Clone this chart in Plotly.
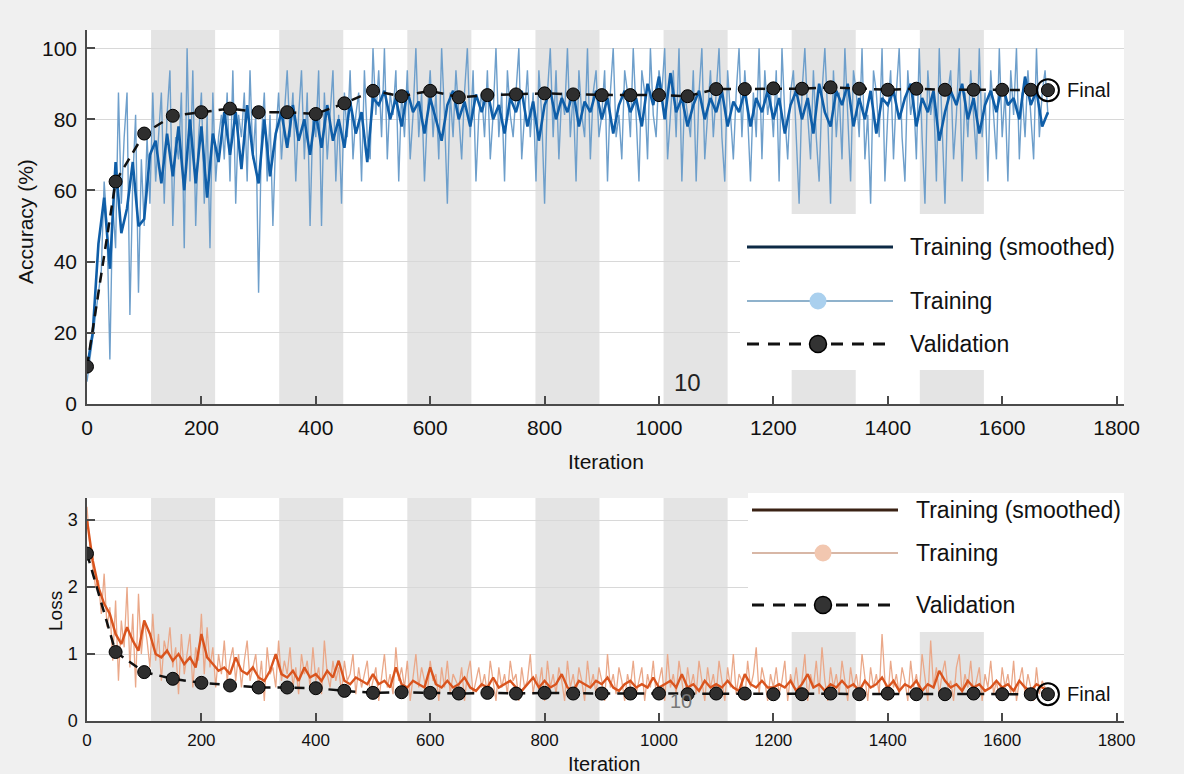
import plotly.graph_objects as go

W, H = 1184, 774

# ---------------- data ----------------
raw_iter = list(range(0, 1681, 5))
acc_raw = [
    6.25, 12.5, 18.75, 25, 31.25, 37.5, 62.5, 50, 12.5, 56.25,
    43.75, 87.5, 56.25, 75, 87.5, 25, 62.5, 81.25, 31.25, 68.75,
    50, 75, 56.25, 87.5, 62.5, 75, 87.5, 56.25, 81.25, 93.75,
    50, 75, 68.75, 87.5, 43.75, 100, 62.5, 93.75, 50, 75,
    87.5, 56.25, 81.25, 43.75, 87.5, 62.5, 75, 81.25, 68.75, 87.5,
    62.5, 93.75, 56.25, 81.25, 75, 87.5, 62.5, 93.75, 68.75, 81.25,
    31.25, 75, 87.5, 62.5, 81.25, 50, 75, 87.5, 68.75, 81.25,
    93.75, 75, 87.5, 62.5, 81.25, 93.75, 68.75, 87.5, 50, 81.25,
    75, 93.75, 50, 87.5, 68.75, 81.25, 93.75, 62.5, 81.25, 56.25,
    87.5, 75, 93.75, 68.75, 81.25, 87.5, 62.5, 93.75, 75, 68.75,
    100, 81.25, 93.75, 75, 100, 68.75, 87.5, 81.25, 93.75, 62.5,
    87.5, 75, 93.75, 68.75, 81.25, 100, 75, 87.5, 62.5, 81.25,
    93.75, 75, 87.5, 68.75, 100, 81.25, 56.25, 87.5, 75, 93.75,
    81.25, 68.75, 87.5, 100, 75, 93.75, 62.5, 81.25, 87.5, 75,
    93.75, 68.75, 81.25, 100, 75, 87.5, 62.5, 93.75, 81.25, 75,
    87.5, 100, 68.75, 81.25, 93.75, 75, 87.5, 62.5, 93.75, 81.25,
    56.25, 87.5, 100, 75, 93.75, 68.75, 87.5, 81.25, 100, 75,
    87.5, 62.5, 93.75, 81.25, 75, 100, 68.75, 87.5, 93.75, 75,
    81.25, 93.75, 62.5, 87.5, 100, 75, 81.25, 68.75, 93.75, 87.5,
    75, 100, 81.25, 62.5, 93.75, 87.5, 68.75, 100, 81.25, 75,
    93.75, 87.5, 100, 68.75, 81.25, 93.75, 75, 100, 62.5, 87.5,
    81.25, 75, 93.75, 62.5, 87.5, 100, 68.75, 81.25, 93.75, 75,
    87.5, 100, 75, 62.5, 93.75, 81.25, 68.75, 87.5, 100, 75,
    93.75, 81.25, 62.5, 87.5, 75, 100, 68.75, 93.75, 81.25, 87.5,
    75, 93.75, 62.5, 100, 81.25, 68.75, 87.5, 93.75, 75, 56.25,
    87.5, 100, 81.25, 68.75, 93.75, 75, 62.5, 87.5, 100, 81.25,
    56.25, 93.75, 75, 87.5, 68.75, 100, 81.25, 62.5, 93.75, 87.5,
    75, 100, 68.75, 81.25, 56.25, 93.75, 87.5, 75, 100, 62.5,
    81.25, 93.75, 68.75, 87.5, 100, 75, 62.5, 93.75, 81.25, 87.5,
    68.75, 100, 75, 56.25, 93.75, 81.25, 87.5, 62.5, 100, 75,
    56.25, 87.5, 93.75, 68.75, 81.25, 100, 62.5, 87.5, 75, 93.75,
    81.25, 68.75, 100, 75, 87.5, 62.5, 93.75, 81.25, 68.75, 100,
    75, 87.5, 62.5, 93.75, 81.25, 100, 68.75, 87.5, 75, 93.75,
    81.25, 68.75, 100, 75, 87.5, 93.75, 81.25,
]

smooth_iter = list(range(0, 1681, 10))
acc_smooth = [
    10, 20, 45, 58, 38, 68, 48, 55, 68, 50,
    52, 70, 74, 62, 76, 64, 78, 60, 80, 62,
    78, 58, 76, 68, 82, 70, 82, 66, 84, 70,
    62, 80, 64, 76, 82, 72, 84, 74, 80, 70,
    82, 72, 84, 74, 80, 72, 85, 76, 82, 68,
    86, 84, 88, 80, 86, 78, 88, 82, 85, 76,
    86, 80, 74, 84, 88, 80, 85, 78, 87, 82,
    88, 80, 84, 76, 86, 82, 88, 78, 85, 74,
    84, 88, 80, 86, 82, 88, 78, 85, 82, 88,
    80, 86, 76, 84, 88, 82, 86, 78, 90, 84,
    92, 80, 93, 82, 86, 78, 84, 88, 80, 86,
    82, 88, 78, 85, 82, 88, 78, 86, 82, 88,
    80, 86, 76, 84, 88, 80, 86, 76, 90, 82,
    78, 88, 84, 90, 78, 86, 80, 88, 76, 86,
    84, 88, 80, 86, 90, 78, 86, 82, 88, 74,
    82, 88, 84, 90, 80, 86, 76, 84, 88, 82,
    90, 84, 86, 80, 92, 84, 88, 78, 82,
]

val_iter = [0, 50, 100, 150, 200, 250, 300, 350, 400, 450, 500, 550, 600,
            650, 700, 750, 800, 850, 900, 950, 1000, 1050, 1100, 1150, 1200,
            1250, 1300, 1350, 1400, 1450, 1500, 1550, 1600, 1650, 1680]
acc_val = [10.5, 62.5, 76, 81, 82, 83, 82, 82, 81.5, 84.5, 88, 86.5, 88,
           86.2, 86.8, 87, 87.3, 87, 86.8, 86.8, 86.8, 86.5, 88.5, 88.5, 88.7,
           88.6, 89, 88.6, 88.3, 88.6, 88.3, 88.3, 88.3, 88.3, 88.2]

loss_raw = [
    3.2, 2.6, 2.3, 2.0, 2.1, 1.6, 2.2, 1.4, 1.7, 0.9,
    1.8, 0.6, 1.5, 1.1, 2.0, 0.8, 1.6, 0.5, 1.9, 1.0,
    1.5, 1.2, 0.8, 1.6, 0.9, 1.3, 0.6, 1.2, 1.0, 1.4,
    0.8, 1.1, 0.4, 1.3, 0.7, 1.0, 1.3, 0.5, 1.1, 0.9,
    1.6, 0.7, 1.4, 0.8, 1.1, 0.5, 1.0, 0.7, 1.2, 0.6,
    0.9, 1.1, 0.6, 1.0, 0.5, 0.9, 1.2, 0.6, 0.8, 1.0,
    0.5, 0.9, 0.3, 1.1, 0.7, 0.8, 0.5, 1.2, 0.6, 0.9,
    0.7, 1.1, 0.5, 0.8, 0.4, 1.0, 0.7, 0.9, 0.5, 1.1,
    0.6, 0.8, 0.4, 1.2, 0.7, 0.5, 0.9, 0.6, 0.8, 0.4,
    0.9, 0.6, 0.7, 1.0, 0.4, 0.8, 0.5, 0.7, 0.9, 0.4,
    0.6, 0.8, 0.3, 0.7, 1.0, 0.5, 0.7, 0.4, 1.1, 0.6,
    0.8, 0.5, 0.9, 0.3, 0.7, 1.0, 0.5, 0.8, 0.6, 0.4,
    0.9, 0.6, 0.7, 0.3, 0.8, 0.5, 0.9, 0.4, 0.7, 0.6,
    0.5, 0.8, 0.3, 0.7, 0.9, 0.4, 0.6, 0.8, 0.5, 0.7,
    0.4, 0.9, 0.6, 0.3, 0.8, 0.5, 0.7, 0.4, 0.9, 0.6,
    0.7, 0.3, 0.8, 0.5, 0.6, 1.0, 0.4, 0.7, 0.5, 0.8,
    0.3, 0.9, 0.5, 0.7, 0.4, 0.8, 0.6, 0.3, 0.9, 0.5,
    0.7, 0.4, 0.8, 0.6, 0.3, 0.9, 0.5, 0.7, 0.4, 0.8,
    0.6, 0.3, 1.0, 0.5, 0.7, 0.4, 0.8, 0.6, 0.3, 0.7,
    0.5, 0.9, 0.4, 0.6, 0.8, 0.3, 0.7, 0.5, 0.9, 0.4,
    0.6, 0.8, 0.3, 1.0, 0.5, 0.7, 0.4, 0.9, 0.6, 0.3,
    0.8, 0.5, 0.7, 0.4, 0.9, 0.6, 0.3, 0.8, 0.5, 0.7,
    0.4, 0.9, 0.6, 0.3, 0.8, 0.5, 1.0, 0.4, 0.7, 0.6,
    0.3, 0.9, 0.5, 0.7, 1.1, 0.4, 0.8, 0.6, 0.3, 0.7,
    0.5, 0.8, 0.4, 0.6, 0.9, 0.3, 0.7, 0.5, 0.8, 0.4,
    0.6, 1.0, 0.3, 0.7, 0.5, 0.9, 0.4, 1.1, 0.6, 0.3,
    0.8, 0.5, 0.7, 0.4, 0.9, 0.6, 0.3, 0.8, 0.5, 0.7,
    0.4, 1.0, 0.6, 0.3, 0.8, 0.5, 0.7, 0.4, 1.3, 0.6,
    0.3, 0.9, 0.5, 0.7, 0.4, 0.8, 0.6, 0.3, 0.9, 0.5,
    0.7, 0.4, 1.0, 0.6, 0.3, 1.2, 0.5, 0.8, 0.4, 0.7,
    0.9, 0.5, 0.6, 0.3, 0.8, 1.0, 0.4, 0.7, 0.5, 0.9,
    0.4, 0.6, 0.8, 0.3, 0.7, 0.5, 0.9, 0.4, 0.6, 0.3,
    0.8, 0.5, 0.7, 0.4, 0.9, 0.3, 0.6, 0.8, 0.4, 0.7,
    0.5, 0.3, 0.8, 0.4, 0.6, 0.5, 0.4,
]

loss_smooth = [
    3.0, 2.4, 2.0, 1.75, 1.6, 1.3, 1.15, 1.4, 1.2, 1.05,
    1.5, 1.3, 1.0, 0.95, 1.05, 0.9, 1.0, 0.85, 0.95, 0.8,
    1.3, 0.95, 0.85, 0.75, 0.8, 0.7, 0.95, 0.75, 0.7, 0.8,
    0.65, 0.6, 0.75, 1.0, 0.7, 0.65, 0.75, 0.6, 0.8, 0.65,
    0.7, 0.6, 0.75, 0.65, 0.9, 0.6, 0.55, 0.65, 0.6, 0.55,
    0.7, 0.55, 0.6, 0.5, 0.8, 0.55, 0.5, 0.6, 0.55, 0.5,
    0.8, 0.55, 0.5, 0.6, 0.5, 0.55, 0.65, 0.5, 0.45, 0.55,
    0.5, 0.65, 0.5, 0.55, 0.6, 0.5, 0.45, 0.55, 0.65, 0.5,
    0.6, 0.5, 0.55, 0.7, 0.5, 0.45, 0.6, 0.55, 0.5, 0.6,
    0.55, 0.65, 0.5, 0.45, 0.55, 0.6, 0.5, 0.55, 0.5, 0.65,
    0.5, 0.55, 0.6, 0.5, 0.7, 0.5, 0.55, 0.45, 0.6, 0.5,
    0.55, 0.5, 0.6, 0.5, 0.45, 0.7, 0.55, 0.5, 0.6, 0.5,
    0.5, 0.55, 0.5, 0.6, 0.45, 0.55, 0.7, 0.5, 0.55, 0.45,
    0.55, 0.5, 0.6, 0.5, 0.55, 0.45, 0.6, 0.5, 0.55, 0.65,
    0.5, 0.6, 0.45, 0.55, 0.5, 0.6, 0.45, 0.55, 0.5, 0.75,
    0.6, 0.5, 0.55, 0.45, 0.6, 0.5, 0.55, 0.45, 0.5, 0.6,
    0.5, 0.55, 0.45, 0.6, 0.5, 0.45, 0.55, 0.5, 0.45,
]

loss_val = [2.5, 1.03, 0.73, 0.63, 0.57, 0.53, 0.5, 0.5, 0.49, 0.45, 0.42,
            0.43, 0.42, 0.41, 0.42, 0.41, 0.42, 0.41, 0.41, 0.41, 0.41, 0.4,
            0.41, 0.41, 0.4, 0.4, 0.41, 0.4, 0.41, 0.4, 0.4, 0.41, 0.4, 0.4, 0.4]

epoch_len = 112
shaded_epochs = [2, 4, 6, 8, 10, 12, 14]
x_ticks = [0, 200, 400, 600, 800, 1000, 1200, 1400, 1600, 1800]
acc_ticks = [0, 20, 40, 60, 80, 100]
loss_ticks = [0, 1, 2, 3]
legend_labels = ["Training (smoothed)", "Training", "Validation"]

# ---------------- helpers ----------------
def px(x):
    return x / W

def py(y):
    return 1 - y / H

FONT = "Liberation Sans, Arial, sans-serif"
X0, X1 = 87, 1124
TOP = (30, 404)
BOT = (498, 721)

fig = go.Figure()

# accuracy traces
fig.add_trace(go.Scatter(x=raw_iter, y=acc_raw, mode="lines",
                         line=dict(color="#6e9fcb", width=1.4),
                         xaxis="x", yaxis="y", showlegend=False, hoverinfo="skip"))
fig.add_trace(go.Scatter(x=smooth_iter, y=acc_smooth, mode="lines",
                         line=dict(color="#0f5ea8", width=2.6),
                         xaxis="x", yaxis="y", showlegend=False))
fig.add_trace(go.Scatter(x=val_iter, y=acc_val, mode="lines+markers",
                         line=dict(color="#111111", width=2.5, dash="10px,7px"),
                         marker=dict(size=13, color="#2e2e2e", line=dict(color="#000", width=1)),
                         xaxis="x", yaxis="y", showlegend=False))
fig.add_trace(go.Scatter(x=[val_iter[-1]], y=[acc_val[-1]], mode="markers",
                         marker=dict(size=22, symbol="circle-open", color="#000",
                                     line=dict(width=2)),
                         xaxis="x", yaxis="y", showlegend=False))

# loss traces
fig.add_trace(go.Scatter(x=raw_iter, y=loss_raw, mode="lines",
                         line=dict(color="#eaa889", width=1.3),
                         xaxis="x2", yaxis="y2", showlegend=False, hoverinfo="skip"))
fig.add_trace(go.Scatter(x=smooth_iter, y=loss_smooth, mode="lines",
                         line=dict(color="#d9541e", width=2.4),
                         xaxis="x2", yaxis="y2", showlegend=False))
fig.add_trace(go.Scatter(x=val_iter, y=loss_val, mode="lines+markers",
                         line=dict(color="#111111", width=2.5, dash="10px,7px"),
                         marker=dict(size=13, color="#2e2e2e", line=dict(color="#000", width=1)),
                         xaxis="x2", yaxis="y2", showlegend=False))
fig.add_trace(go.Scatter(x=[val_iter[-1]], y=[loss_val[-1]], mode="markers",
                         marker=dict(size=22, symbol="circle-open", color="#000",
                                     line=dict(width=2)),
                         xaxis="x2", yaxis="y2", showlegend=False))

shapes = []
# epoch shading
for ax in ["", "2"]:
    for e in shaded_epochs:
        shapes.append(dict(type="rect", xref="x" + ax, yref="y" + ax + " domain",
                           x0=(e - 1) * epoch_len, x1=e * epoch_len, y0=0, y1=1,
                           fillcolor="#e4e4e4", line=dict(width=0), layer="below"))

annotations = []

def add_legend(box, rows, line_x, text_x, colors):
    bx0, by0, bx1, by1 = box
    shapes.append(dict(type="rect", xref="paper", yref="paper",
                       x0=px(bx0), x1=px(bx1), y0=py(by1), y1=py(by0),
                       fillcolor="white", line=dict(width=0), layer="above"))
    lx0, lx1 = line_x
    mx = (lx0 + lx1) / 2 - 2
    shapes.append(dict(type="line", xref="paper", yref="paper",
                       x0=px(lx0), x1=px(lx1), y0=py(rows[0]), y1=py(rows[0]),
                       line=dict(color=colors[0], width=3), layer="above"))
    shapes.append(dict(type="line", xref="paper", yref="paper",
                       x0=px(lx0), x1=px(lx1), y0=py(rows[1]), y1=py(rows[1]),
                       line=dict(color=colors[1], width=2), layer="above"))
    r = 8.5
    shapes.append(dict(type="circle", xref="paper", yref="paper",
                       x0=px(mx - r), x1=px(mx + r), y0=py(rows[1] + r), y1=py(rows[1] - r),
                       fillcolor=colors[2], line=dict(width=0), layer="above"))
    shapes.append(dict(type="line", xref="paper", yref="paper",
                       x0=px(lx0), x1=px(lx1), y0=py(rows[2]), y1=py(rows[2]),
                       line=dict(color="#111111", width=3, dash="12px,9px"), layer="above"))
    shapes.append(dict(type="circle", xref="paper", yref="paper",
                       x0=px(mx - r), x1=px(mx + r), y0=py(rows[2] + r), y1=py(rows[2] - r),
                       fillcolor="#333333", line=dict(color="#000", width=1.5), layer="above"))
    for lab, ry in zip(legend_labels, rows):
        annotations.append(dict(text=lab, xref="paper", yref="paper",
                                x=px(text_x), y=py(ry), xanchor="left", yanchor="middle",
                                showarrow=False, font=dict(family=FONT, size=23, color="#111")))

add_legend((740, 214, 1124, 370), (247, 301, 344), (747, 893), 908,
           ("#0d2a45", "#8fb2cc", "#aad0ee"))
add_legend((748, 493, 1124, 632), (510, 553, 605), (752, 898), 914,
           ("#3a2215", "#d8b7a6", "#f2c7b0"))

# Final labels
annotations.append(dict(text="Final", x=val_iter[-1], y=acc_val[-1], xref="x", yref="y",
                        xanchor="left", yanchor="middle", xshift=17, showarrow=False,
                        font=dict(family=FONT, size=20, color="#111")))
annotations.append(dict(text="Final", x=val_iter[-1], y=loss_val[-1], xref="x2", yref="y2",
                        xanchor="left", yanchor="middle", xshift=17, showarrow=False,
                        font=dict(family=FONT, size=20, color="#111")))
# epoch labels
annotations.append(dict(text="10", x=1049, y=6, xref="x", yref="y", showarrow=False,
                        xanchor="center", yanchor="middle",
                        font=dict(family=FONT, size=24, color="#222")))
annotations.append(dict(text="10", x=1038, y=0.3, xref="x2", yref="y2", showarrow=False,
                        xanchor="center", yanchor="middle",
                        font=dict(family=FONT, size=20, color="#777")))
# axis titles
annotations.append(dict(text="Accuracy (%)", x=px(25), y=py(222), xref="paper", yref="paper",
                        textangle=-90, showarrow=False, xanchor="center", yanchor="middle",
                        font=dict(family=FONT, size=21, color="#111")))
annotations.append(dict(text="Iteration", x=px(606), y=py(462), xref="paper", yref="paper",
                        showarrow=False, xanchor="center", yanchor="middle",
                        font=dict(family=FONT, size=21, color="#111")))
annotations.append(dict(text="Loss", x=px(55), y=py(611), xref="paper", yref="paper",
                        textangle=-90, showarrow=False, xanchor="center", yanchor="middle",
                        font=dict(family=FONT, size=19, color="#111")))
annotations.append(dict(text="Iteration", x=px(604), y=py(764), xref="paper", yref="paper",
                        showarrow=False, xanchor="center", yanchor="middle",
                        font=dict(family=FONT, size=20, color="#111")))

axis_common = dict(showline=True, linecolor="#4a4a4a", linewidth=1.5, ticks="inside",
                   tickcolor="#4a4a4a", ticklen=8, tickwidth=1.5, zeroline=False,
                   mirror=False, automargin=False)

fig.update_layout(
    width=W, height=H, autosize=False,
    margin=dict(l=0, r=0, t=0, b=0, pad=0),
    paper_bgcolor="#f0f0f0", plot_bgcolor="white",
    showlegend=False,
    xaxis=dict(domain=[px(X0), px(X1)], anchor="y", range=[0, 1813], tickvals=x_ticks,
               showgrid=False, tickfont=dict(family=FONT, size=21, color="#111"),
               ticklabelstandoff=4, **axis_common),
    yaxis=dict(domain=[py(TOP[1]), py(TOP[0])], anchor="x", range=[0, 105.1], tickvals=acc_ticks,
               showgrid=True, gridcolor="#d8d8d8", gridwidth=1,
               tickfont=dict(family=FONT, size=21, color="#111"),
               ticklabelstandoff=4, **axis_common),
    xaxis2=dict(domain=[px(X0), px(X1)], anchor="y2", range=[0, 1813], tickvals=x_ticks,
                showgrid=False, tickfont=dict(family=FONT, size=17, color="#111"),
                ticklabelstandoff=3, **axis_common),
    yaxis2=dict(domain=[py(BOT[1]), py(BOT[0])], anchor="x2", range=[0, 3.33], tickvals=loss_ticks,
                showgrid=True, gridcolor="#d8d8d8", gridwidth=1,
                tickfont=dict(family=FONT, size=18, color="#111"),
                ticklabelstandoff=4, **axis_common),
    shapes=shapes,
    annotations=annotations,
)

fig.write_html(
    "out.html",
    config={"displayModeBar": False},
    post_script="document.body.style.margin='0px';document.body.style.padding='0px';"
                "document.body.style.overflow='hidden';"
                "document.body.style.background='#f0f0f0';",
)
